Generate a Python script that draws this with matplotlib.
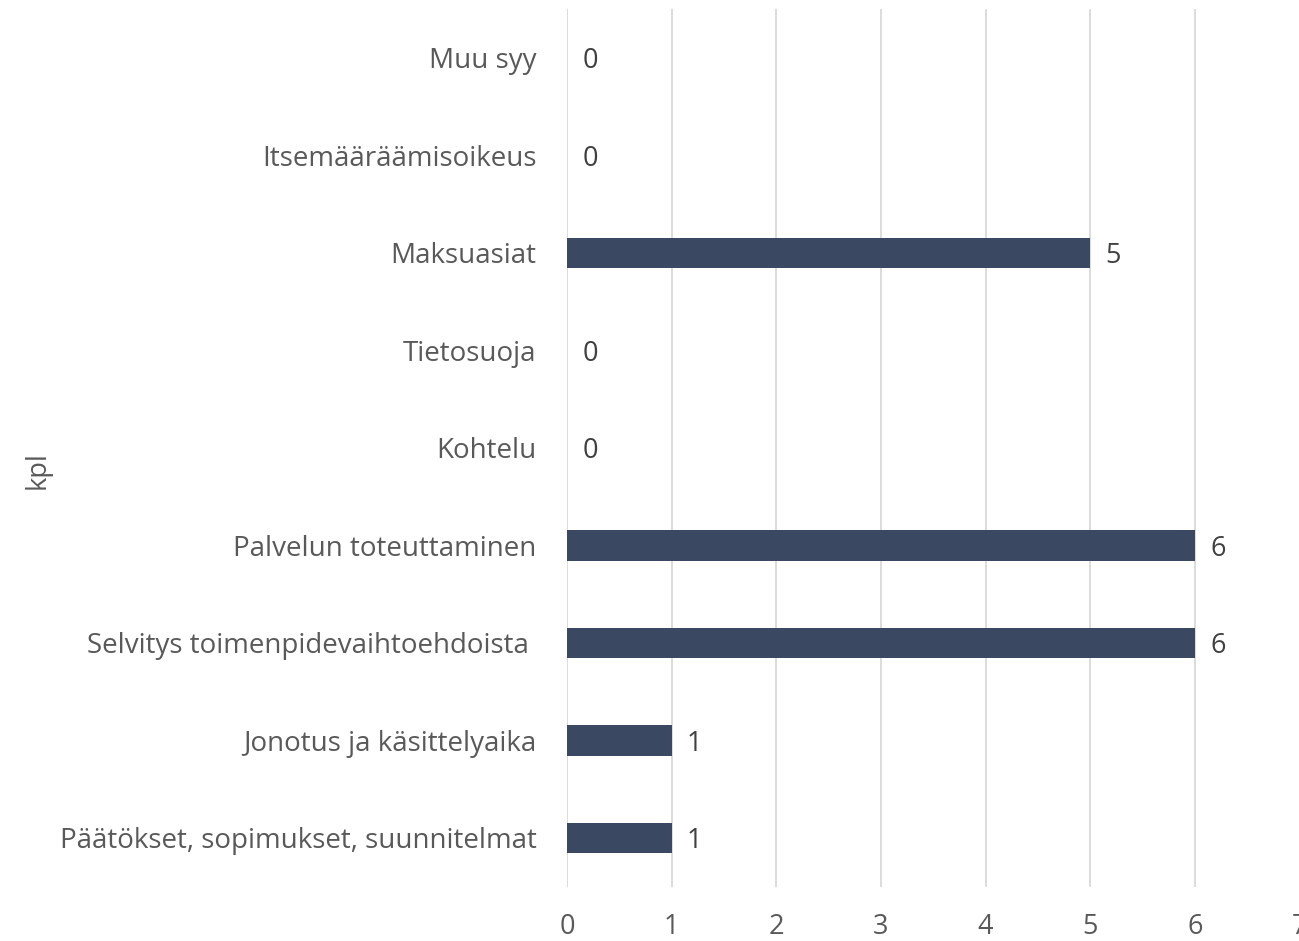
import matplotlib
matplotlib.use("Agg")
import matplotlib.pyplot as plt

categories = [
    "Päätökset, sopimukset, suunnitelmat",
    "Jonotus ja käsittelyaika",
    "Selvitys toimenpidevaihtoehdoista ",
    "Palvelun toteuttaminen",
    "Kohtelu",
    "Tietosuoja",
    "Maksuasiat",
    "Itsemääräämisoikeus",
    "Muu syy",
]
values = [1, 1, 6, 6, 0, 0, 5, 0, 0]
xticks = [0, 1, 2, 3, 4, 5, 6, 7]

plt.rcParams['font.family'] = ['Open Sans', 'DejaVu Sans']
text_color = "#595959"
bar_color = "#3B4862"

fig = plt.figure(figsize=(12.99, 9.41), dpi=100)
ax = fig.add_axes([0.4365, 0.0577, 0.5639, 0.9325])

ypos = list(range(len(categories)))
ax.barh(ypos, values, height=0.31, color=bar_color, zorder=3)

for y, v in zip(ypos, values):
    ax.annotate(str(v), xy=(v, y), xytext=(11, -2.2), textcoords="offset points",
                va="center", ha="left", fontsize=19.5, color="#404040")

ax.set_xlim(0, 7)
ax.set_ylim(-0.5, len(categories) - 0.5)
ax.set_yticks(ypos)
ax.set_yticklabels(categories, fontsize=20, color=text_color)
ax.set_xticks(xticks)
ax.set_xticklabels([str(t) for t in xticks], fontsize=19.5, color=text_color)
ax.tick_params(axis='y', length=0, pad=22)
ax.tick_params(axis='x', length=0, pad=19)
ax.grid(axis='x', color="#D9D9D9", linewidth=1.3, zorder=0)
for s in ax.spines.values():
    s.set_visible(False)

fig.text(0.029, 0.5, "kpl", rotation=90, va="center", ha="center",
         fontsize=19.5, color=text_color)

fig.savefig("out.png", dpi=100)
